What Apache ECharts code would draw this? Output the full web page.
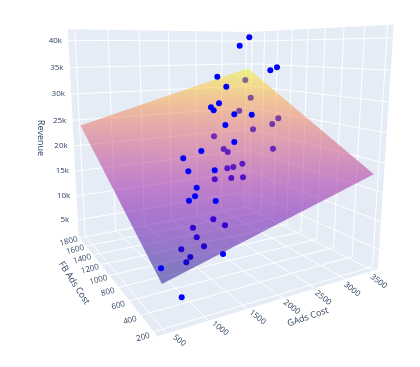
<!DOCTYPE html>
<html>
<head>
<meta charset="utf-8">
<style>html,body{margin:0;padding:0;background:#fff}#chart{width:420px;height:367px;filter:blur(0.45px)}</style>
<script src="https://cdn.jsdelivr.net/npm/echarts@6/dist/echarts.min.js"></script>
</head>
<body>
<div id="chart"></div>
<script>
var gadsTicks = [500, 1000, 1500, 2000, 2500, 3000, 3500];
var fbTicks = [200, 400, 600, 800, 1000, 1200, 1400, 1600, 1800];
var revTicks = [5000, 10000, 15000, 20000, 25000, 30000, 35000, 40000];

var gadsCost = [3497, 3325, 3500, 3496, 2765, 2744, 2422, 2269, 2269, 2481, 2696, 2242, 2159, 1689, 1418, 1667, 1368, 1332, 1250, 1157, 1426, 1233, 503,
  3420, 3209, 2863, 3276, 3119, 2794, 2211, 2801, 2194, 2212, 2265, 2123, 2040, 1790, 1995, 2133, 1452, 1529, 1181, 1157, 1173, 930, 973, 904, 724];
var fbCost = [1780, 1800, 1440, 1340, 1696, 1520, 1348, 1336, 1292, 1160, 1084, 1084, 880, 924, 924, 708, 792, 632, 572, 560, 468, 200, 212,
  1776, 1512, 1408, 1148, 1116, 1140, 1232, 868, 1064, 1020, 856, 860, 872, 824, 776, 736, 524, 444, 532, 456, 376, 428, 352, 332, 200];
var revenue = [40828, 39004, 33882, 34582, 32534, 30704, 27902, 27264, 26793, 26199, 26147, 24634, 22359, 21186, 20290, 18934, 18806, 17056, 16196, 15757, 15776, 10198, 10082,
  31461, 28162, 25940, 24755, 23864, 23072, 22023, 20385, 20290, 19895, 18427, 18026, 17860, 16568, 16715, 16826, 12405, 11860, 11611, 10752, 9976, 9701, 9082, 8656, 5356];

// fitted regression surface, corner values
var surfaceGads = [500, 3500];
var surfaceFb = [200, 1800];
var surfaceRev = [[8000, 18000], [24000, 34000]];

var gadsRange = [400, 3580], fbRange = [150, 1830], revRange = [1500, 42000];

// camera fitted on the box corners
var anchors = [
  [[0, 0, 0], [157, 336]], [[1, 0, 0], [378, 269]], [[0, 1, 0], [79, 237]],
  [[0, 1, 1], [68, 29]], [[1, 0, 1], [394, 25]], [[1, 1, 1], [250, 32]]
];
function fitCamera() {
  var n = 11, A = [], b = [], i, j, k;
  for (i = 0; i < n; i++) { A.push(new Array(n).fill(0)); b.push(0); }
  function addRow(row, val) {
    for (var r = 0; r < n; r++) {
      for (var c = 0; c < n; c++) A[r][c] += row[r] * row[c];
      b[r] += row[r] * val;
    }
  }
  anchors.forEach(function (a) {
    var X = a[0][0], Y = a[0][1], Z = a[0][2], u = a[1][0], v = a[1][1];
    addRow([X, Y, Z, 1, 0, 0, 0, 0, -u * X, -u * Y, -u * Z], u);
    addRow([0, 0, 0, 0, X, Y, Z, 1, -v * X, -v * Y, -v * Z], v);
  });
  for (i = 0; i < n; i++) {
    var p = i;
    for (j = i + 1; j < n; j++) if (Math.abs(A[j][i]) > Math.abs(A[p][i])) p = j;
    var t = A[i]; A[i] = A[p]; A[p] = t; t = b[i]; b[i] = b[p]; b[p] = t;
    for (j = i + 1; j < n; j++) {
      var f = A[j][i] / A[i][i];
      for (k = i; k < n; k++) A[j][k] -= f * A[i][k];
      b[j] -= f * b[i];
    }
  }
  var s = new Array(n);
  for (i = n - 1; i >= 0; i--) {
    var sum = b[i];
    for (k = i + 1; k < n; k++) sum -= A[i][k] * s[k];
    s[i] = sum / A[i][i];
  }
  return s;
}
var cam = fitCamera();
function norm(v, r) { return (v - r[0]) / (r[1] - r[0]); }
function project(g, f, r) {
  var X = norm(g, gadsRange), Y = norm(f, fbRange), Z = norm(r, revRange);
  var w = cam[8] * X + cam[9] * Y + cam[10] * Z + 1;
  return [(cam[0] * X + cam[1] * Y + cam[2] * Z + cam[3]) / w, (cam[4] * X + cam[5] * Y + cam[6] * Z + cam[7]) / w];
}
function surfaceAt(g, f) {
  var a = norm(g, surfaceGads), b = norm(f, surfaceFb);
  return surfaceRev[0][0] * (1 - a) * (1 - b) + surfaceRev[0][1] * a * (1 - b) + surfaceRev[1][0] * (1 - a) * b + surfaceRev[1][1] * a * b;
}

var plasma = ['#0d0887', '#46039f', '#7201a8', '#9c179e', '#bd3786', '#d8576b', '#ed7953', '#fb9f3a', '#fdca26', '#f0f921'];
function hexA(h, o) {
  return 'rgba(' + parseInt(h.substr(1, 2), 16) + ',' + parseInt(h.substr(3, 2), 16) + ',' + parseInt(h.substr(5, 2), 16) + ',' + o + ')';
}

// points under the surface are drawn first, so the surface tints them
var above = [], below = [];
revenue.forEach(function (r, i) {
  var p = project(gadsCost[i], fbCost[i], r);
  (r > surfaceAt(gadsCost[i], fbCost[i]) ? above : below).push(p);
});

var g0 = gadsRange[0], g1 = gadsRange[1], f0 = fbRange[0], f1 = fbRange[1], r0 = revRange[0], r1 = revRange[1];
var walls = [
  [[g0, f0, r0], [g1, f0, r0], [g1, f1, r0], [g0, f1, r0]],
  [[g0, f1, r0], [g1, f1, r0], [g1, f1, r1], [g0, f1, r1]],
  [[g1, f0, r0], [g1, f1, r0], [g1, f1, r1], [g1, f0, r1]]
];
var segs = [];
gadsTicks.forEach(function (g) { segs.push([[g, f0, r0], [g, f1, r0]], [[g, f1, r0], [g, f1, r1]]); });
fbTicks.forEach(function (f) { segs.push([[g0, f, r0], [g1, f, r0]], [[g1, f, r0], [g1, f, r1]]); });
revTicks.forEach(function (r) { segs.push([[g0, f1, r], [g1, f1, r]], [[g1, f0, r], [g1, f1, r]]); });

function surfaceFill() {
  var low = surfaceRev[0][0], high = surfaceRev[1][1];
  var s = project(surfaceGads[0], surfaceFb[0], low);
  var e = project(surfaceGads[1], surfaceFb[1], high);
  // gradient runs across the lines of equal revenue
  var a = project(surfaceGads[1], surfaceFb[0], surfaceRev[0][1]);
  var t = (surfaceRev[0][1] - low) / (surfaceRev[1][0] - low);
  var b = project(surfaceGads[0], surfaceFb[0] + t * (surfaceFb[1] - surfaceFb[0]), surfaceRev[0][1]);
  var dx = b[0] - a[0], dy = b[1] - a[1], len = Math.sqrt(dx * dx + dy * dy);
  var nx = -dy / len, ny = dx / len;
  if ((e[0] - s[0]) * nx + (e[1] - s[1]) * ny < 0) { nx = -nx; ny = -ny; }
  var L = (e[0] - s[0]) * nx + (e[1] - s[1]) * ny;
  var stops = plasma.map(function (c, i) {
    var q = i / (plasma.length - 1);
    var p = project(surfaceGads[0] + q * (surfaceGads[1] - surfaceGads[0]), surfaceFb[0] + q * (surfaceFb[1] - surfaceFb[0]), low + q * (high - low));
    return { offset: Math.max(0, Math.min(1, ((p[0] - s[0]) * nx + (p[1] - s[1]) * ny) / L)), color: hexA(c, 0.5) };
  });
  return new echarts.graphic.LinearGradient(s[0], s[1], s[0] + nx * L, s[1] + ny * L, stops, true);
}

var texts = [];
function label(txt, p, dx, dy, rot, size) { texts.push([txt, p[0] + dx, p[1] + dy, rot, size]); }
revTicks.forEach(function (r) { label((r / 1000) + 'k', project(g0, f1, r), -13, 0, 0, 8); });
fbTicks.forEach(function (f) { label(String(f), project(g0, f, r0), -11, 3.5 + 2 * (1 - norm(f, fbRange)), 15, 8); });
gadsTicks.forEach(function (g) {
  var t = norm(g, gadsRange);
  label(String(g), project(g, f0, r0), 13 - 8 * t, 7 + 4 * t, -38, 8);
});
texts.push(['Revenue', 41, 138, -90, 9], ['FB Ads Cost', 74, 283, -57, 9], ['GAds Cost', 308, 317, 19, 9]);

function indexData(list) { return list.map(function (d, i) { return [i, 0]; }); }

var chart = echarts.init(document.getElementById('chart'));
chart.setOption({
  animation: false,
  grid: { left: 0, right: 0, top: 0, bottom: 0 },
  xAxis: { type: 'value', min: 0, max: 420, show: false },
  yAxis: { type: 'value', min: 0, max: 367, inverse: true, show: false },
  series: [
    {
      type: 'custom', z: 1, silent: true, clip: false, data: indexData(walls),
      renderItem: function (params, api) {
        var pts = walls[api.value(0)].map(function (c) { return api.coord(project(c[0], c[1], c[2])); });
        return { type: 'polygon', shape: { points: pts }, style: { fill: '#e5ecf6' } };
      }
    },
    {
      type: 'custom', z: 2, silent: true, clip: false, data: indexData(segs),
      renderItem: function (params, api) {
        var s = segs[api.value(0)];
        var a = api.coord(project(s[0][0], s[0][1], s[0][2])), b = api.coord(project(s[1][0], s[1][1], s[1][2]));
        return { type: 'line', shape: { x1: a[0], y1: a[1], x2: b[0], y2: b[1] }, style: { stroke: '#fff', lineWidth: 1 } };
      }
    },
    { type: 'scatter', z: 3, silent: true, symbolSize: 6, itemStyle: { color: '#0000ff', opacity: 1 }, data: below },
    {
      type: 'custom', z: 4, silent: true, clip: false, data: [[0, 0]],
      renderItem: function (params, api) {
        var c = [[0, 0], [1, 0], [1, 1], [0, 1]].map(function (ij) {
          return api.coord(project(surfaceGads[ij[0]], surfaceFb[ij[1]], surfaceRev[ij[1]][ij[0]]));
        });
        return { type: 'polygon', shape: { points: c }, style: { fill: surfaceFill() } };
      }
    },
    { type: 'scatter', z: 5, silent: true, symbolSize: 6, itemStyle: { color: '#0000ff', opacity: 1 }, data: above },
    {
      type: 'custom', z: 6, silent: true, clip: false, data: indexData(texts),
      renderItem: function (params, api) {
        var t = texts[api.value(0)], p = api.coord([t[1], t[2]]);
        return {
          type: 'text', x: p[0], y: p[1], rotation: t[3] * Math.PI / 180,
          style: { text: t[0], fill: '#2a3f5f', font: t[4] + 'px "Open Sans"', align: 'center', verticalAlign: 'middle' }
        };
      }
    }
  ]
});
</script>
</body>
</html>
